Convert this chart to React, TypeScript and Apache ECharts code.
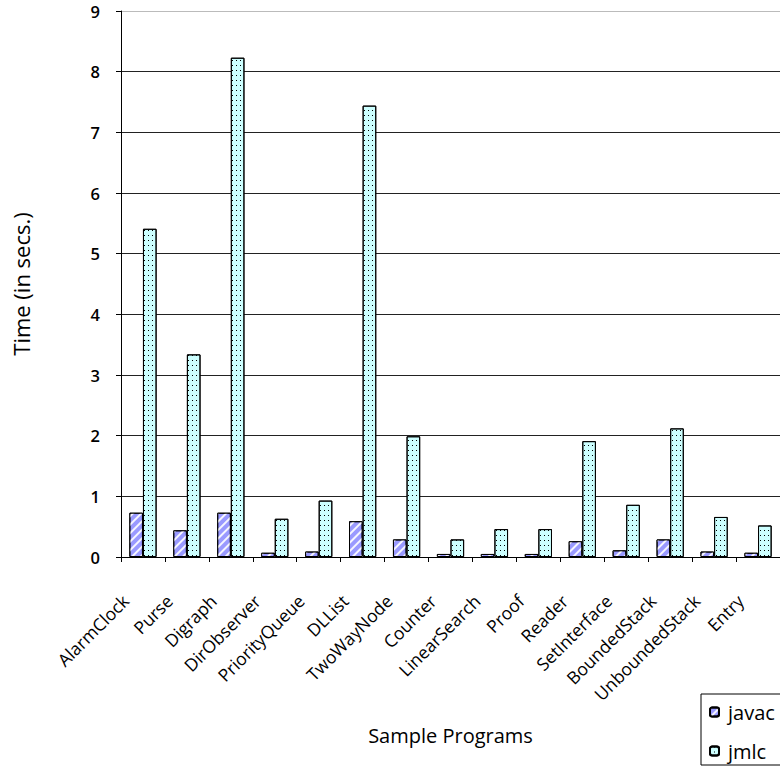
import React, { useEffect, useRef } from "react";
import * as echarts from "echarts";

const categories = [
  "AlarmClock", "Purse", "Digraph", "DirObserver", "PriorityQueue", "DLList",
  "TwoWayNode", "Counter", "LinearSearch", "Proof", "Reader", "SetInterface",
  "BoundedStack", "UnboundedStack", "Entry",
];
const javac = [0.73, 0.44, 0.73, 0.07, 0.09, 0.59, 0.29, 0.05, 0.05, 0.05, 0.26, 0.11, 0.29, 0.09, 0.07];
const jmlc = [5.41, 3.34, 8.23, 0.63, 0.93, 7.44, 1.99, 0.29, 0.46, 0.46, 1.91, 0.86, 2.12, 0.66, 0.52];
const seriesNames = ["javac", "jmlc"];
const yAxisTitle = "Time (in secs.)";
const xAxisTitle = "Sample Programs";

const FONT = "Open Sans";

export default function App() {
  const ref = useRef<HTMLDivElement>(null);
  useEffect(() => {
    if (!ref.current) return;
    const chart = echarts.init(ref.current, null, { renderer: "svg" });
    const gridColors = ["#222", "#222", "#222", "#222", "#222", "#222", "#222", "#222", "#222", "#bbb"];
    chart.setOption({
      animation: false,
      backgroundColor: "#fff",
      textStyle: { fontFamily: FONT },
      grid: { left: 121, top: 11, right: -8, bottom: 209, containLabel: false },
      legend: {
        left: 701,
        top: 694,
        orient: "vertical",
        itemWidth: 9,
        itemHeight: 9,
        itemGap: 19,
        padding: [8, 30, 4, 8],
        borderColor: "#000",
        borderWidth: 1,
        textStyle: { fontFamily: FONT, fontSize: 20, color: "#000", padding: [0, 0, 0, 4] },
        data: seriesNames,
      },
      xAxis: {
        type: "category",
        data: categories,
        name: xAxisTitle,
        nameLocation: "middle",
        nameGap: 168,
        nameTextStyle: { fontFamily: FONT, fontSize: 20, color: "#000" },
        axisLine: { lineStyle: { color: "#000", width: 1 } },
        axisTick: { show: true, alignWithLabel: false, length: 5, lineStyle: { color: "#000" } },
        axisLabel: {
          rotate: 45,
          fontSize: 17.5,
          color: "#000",
          margin: 23,
          interval: 0,
          fontFamily: FONT,
          padding: [0, 25, 0, 0],
        },
      },
      yAxis: {
        type: "value",
        min: 0,
        max: 9,
        interval: 1,
        name: yAxisTitle,
        nameLocation: "middle",
        nameRotate: 90,
        nameGap: 89,
        nameTextStyle: { fontFamily: FONT, fontSize: 22, color: "#000" },
        axisLine: { show: true, lineStyle: { color: "#000", width: 1 } },
        axisTick: { show: true, length: 5, lineStyle: { color: "#000" } },
        axisLabel: { fontSize: 16.5, fontWeight: 600, color: "#000", margin: 21, fontFamily: FONT },
        splitLine: { show: true, lineStyle: { color: gridColors, width: 1 } },
      },
      series: [
        {
          name: seriesNames[0],
          type: "bar",
          data: javac,
          barGap: "0%",
          barCategoryGap: "38%",
          itemStyle: {
            color: "#9999ff",
            borderColor: "#000",
            borderWidth: 1,
            decal: {
              symbol: "rect",
              symbolSize: 1,
              color: "rgba(255,255,255,0.9)",
              dashArrayX: [1, 0],
              dashArrayY: [2, 4],
              rotation: -Math.PI / 4,
            },
          },
        },
        {
          name: seriesNames[1],
          type: "bar",
          data: jmlc,
          barGap: "0%",
          barCategoryGap: "38%",
          itemStyle: {
            color: "#ccffff",
            borderColor: "#000",
            borderWidth: 1,
            decal: {
              symbol: "rect",
              symbolSize: 1,
              color: "#000",
              dashArrayX: [1, 3],
              dashArrayY: [1, 4],
              rotation: 0,
            },
          },
        },
      ],
    });
    return () => chart.dispose();
  }, []);
  return (
    <div
      ref={ref}
      style={{ position: "absolute", left: 0, top: 0, width: 780, height: 766 }}
    />
  );
}
